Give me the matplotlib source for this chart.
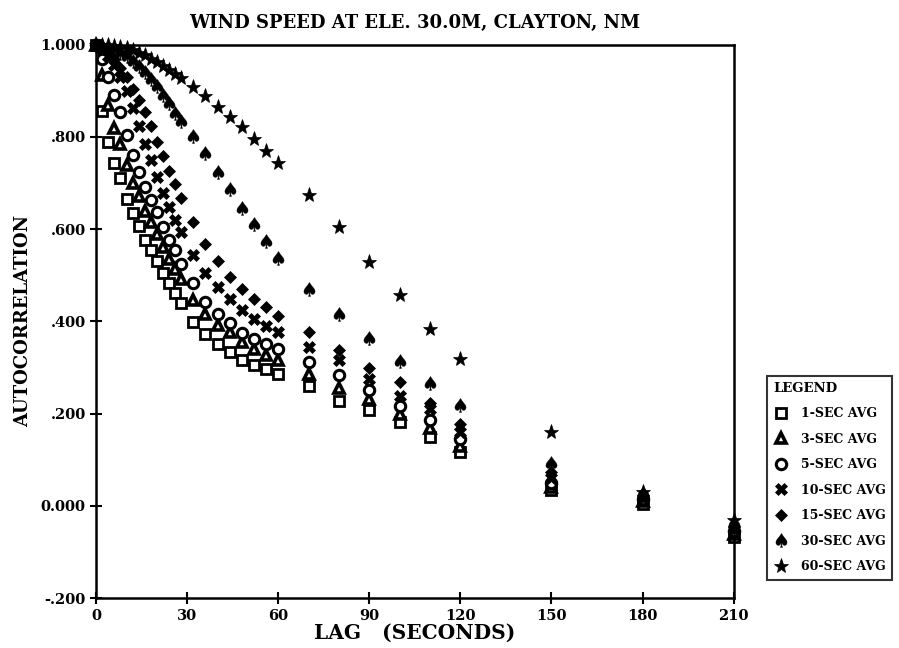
import matplotlib
matplotlib.use("Agg")
import matplotlib.pyplot as plt

# lags (seconds) shared by every series
lags = [0, 2, 4, 6, 8, 10, 12, 14, 16, 18, 20, 22, 24, 26, 28,
        32, 36, 40, 44, 48, 52, 56, 60,
        70, 80, 90, 100, 110, 120, 150, 180, 210]

ac_1sec = [1.0, .856, .788, .743, .710, .666, .634, .606, .577, .555, .530, .505, .483, .461, .441,
           .399, .372, .352, .333, .316, .305, .296, .287,
           .259, .227, .207, .181, .150, .117, .034, .005, -.068]
ac_3sec = [1.0, .935, .870, .820, .785, .740, .700, .672, .640, .615, .590, .562, .536, .513, .491,
           .447, .417, .393, .376, .356, .340, .328, .316,
           .286, .255, .232, .199, .169, .130, .042, .010, -.062]
ac_5sec = [1.0, .970, .930, .890, .855, .804, .761, .725, .692, .663, .637, .605, .576, .554, .525,
           .483, .443, .417, .397, .375, .361, .352, .341,
           .311, .284, .252, .217, .187, .145, .050, .014, -.055]
ac_10sec = [1.0, .990, .975, .955, .930, .900, .862, .823, .785, .749, .714, .678, .648, .620, .594,
            .544, .506, .474, .448, .425, .406, .391, .376,
            .344, .317, .275, .239, .209, .160, .060, .018, -.050]
ac_15sec = [1.0, .995, .985, .970, .950, .930, .905, .880, .854, .823, .788, .759, .727, .697, .667,
            .615, .567, .530, .497, .471, .449, .432, .412,
            .377, .339, .300, .268, .223, .178, .073, .022, -.045]
ac_30sec = [1.0, .998, .995, .990, .983, .975, .965, .953, .940, .926, .910, .892, .874, .852, .834,
            .801, .765, .724, .688, .647, .611, .574, .538,
            .470, .415, .363, .315, .266, .218, .094, .028, -.038]
ac_60sec = [1.0, 1.0, .999, .997, .995, .992, .988, .983, .977, .970, .962, .954, .945, .936, .927,
            .909, .889, .865, .843, .821, .795, .769, .743,
            .674, .605, .529, .457, .384, .319, .160, .030, -.030]

labels = ["1-SEC AVG", "3-SEC AVG", "5-SEC AVG", "10-SEC AVG", "15-SEC AVG", "30-SEC AVG", "60-SEC AVG"]
xticks = [0, 30, 60, 90, 120, 150, 180, 210]
yticks = [-.2, 0, .2, .4, .6, .8, 1.0]
ytick_labels = ["-.200", "0.000", ".200", ".400", ".600", ".800", "1.000"]

series = [ac_1sec, ac_3sec, ac_5sec, ac_10sec, ac_15sec, ac_30sec, ac_60sec]
styles = [
    dict(marker="s", ms=7, mfc="white", mew=2.0),
    dict(marker="^", ms=7.5, mfc="white", mew=2.6),
    dict(marker="o", ms=7.5, mfc="white", mew=2.2),
    dict(marker="X", ms=9, mfc="black", mew=0.5),
    dict(marker="D", ms=6.5, mfc="black", mew=0.5),
    dict(marker=r"$\spadesuit$", ms=10, mfc="black", mew=0.3),
    dict(marker="*", ms=11, mfc="black", mew=0.5),
]

plt.rcParams["font.family"] = "DejaVu Serif"
plt.rcParams["font.weight"] = "bold"

fig = plt.figure(figsize=(8.99, 6.48), dpi=100)
ax = fig.add_axes([0.107, 0.077, 0.709, 0.854])

handles = []
for vals, st, lab in zip(series, styles, labels):
    h, = ax.plot(lags, vals, linestyle="none", color="black", mec="black",
                 label=lab, clip_on=False, **st)
    handles.append(h)

ax.set_xlim(0, 210)
ax.set_ylim(-0.2, 1.0)
ax.set_xticks(xticks)
ax.set_xticklabels([str(t) for t in xticks], fontsize=10.5, fontweight="bold")
ax.set_yticks(yticks)
ax.set_yticklabels(ytick_labels, fontsize=10.5, fontweight="bold")
ax.tick_params(direction="inout", length=9, width=1.5, pad=3)
for s in ax.spines.values():
    s.set_linewidth(1.8)

ax.set_title("WIND SPEED AT ELE. 30.0M, CLAYTON, NM", fontsize=13, fontweight="bold", pad=12)
ax.set_xlabel("LAG   (SECONDS)", fontsize=14.5, fontweight="bold", labelpad=0)
ax.set_ylabel("AUTOCORRELATION", fontsize=13, fontweight="bold", labelpad=6)

leg = fig.legend(handles=handles, loc="upper left", bbox_to_anchor=(0.846, 0.43),
                 title="LEGEND", title_fontproperties={"size": 9.5, "weight": "bold"},
                 prop={"size": 9, "weight": "bold"}, alignment="left",
                 frameon=True, fancybox=False, edgecolor="black",
                 labelspacing=1.0, handletextpad=1.0, borderpad=0.5, handlelength=1.2)
leg.get_frame().set_linewidth(1.5)

fig.savefig("out.png", dpi=100)
